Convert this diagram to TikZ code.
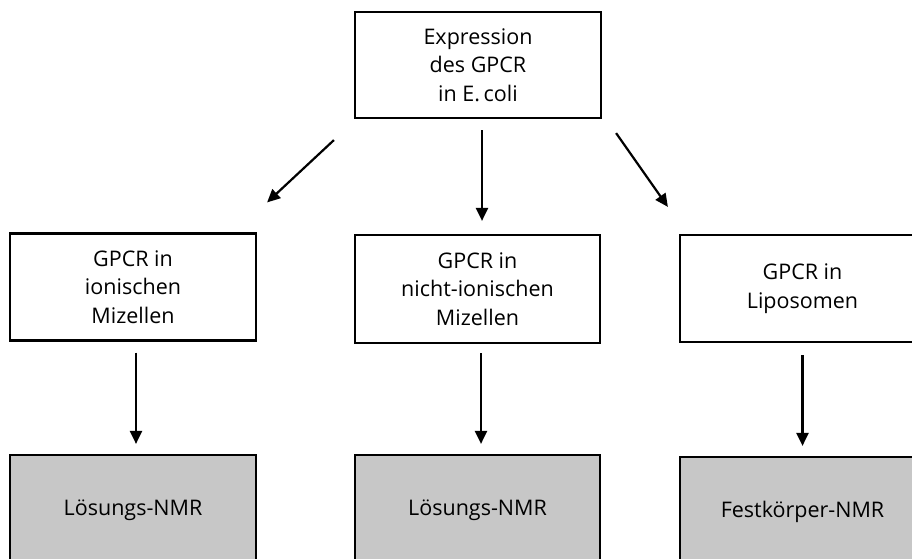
\documentclass[tikz,border=0pt]{standalone}
\usepackage{fontspec}
\setmainfont{Open Sans}
\usetikzlibrary{shapes,arrows.meta,positioning,calc}

\begin{document}
\begin{tikzpicture}[x=1pt, y=-1pt]
  \tikzstyle{box}=[draw, line width=2.2pt, minimum width=246pt, minimum height=107pt, align=center, font=\fontsize{21.5}{28.5}\selectfont, inner sep=0pt]
  \tikzstyle{result}=[box, fill=black!22, minimum height=110pt]
  \tikzstyle{pfeil}=[line width=2.2pt, -{Triangle[length=13pt,width=12pt]}]

  \useasboundingbox (0,0) rectangle (912,558);

  % Ausgangspunkt
  \node[box, minimum height=106pt] (expr) at (478,65) {Expression\\des GPCR\\in E.\,coli};

  % Umgebungen
  \node[box] (ion) at (133,287) {GPCR in\\ionischen\\Mizellen};
  \node[box, minimum width=245pt, minimum height=108pt] (nion) at (477.5,289) {GPCR in\\nicht-ionischen\\Mizellen};
  \node[box, minimum width=245pt] (lipo) at (802.5,288.5) {GPCR in\\Liposomen};

  % Methoden
  \node[result] (nmr1) at (133,510) {Lösungs-NMR};
  \node[result, minimum width=245pt] (nmr2) at (477.5,510) {Lösungs-NMR};
  \node[result, minimum width=245pt] (nmr3) at (802.5,512) {Festkörper-NMR};

  % Pfeile
  \draw[pfeil] ([shift={(-20,21)}]expr.south west) -- ([shift={(10,-30)}]ion.north east);
  \draw[pfeil, shorten <=11pt, shorten >=13pt] ([xshift=4pt]expr.south) -- ([xshift=4.5pt]nion.north);
  \draw[pfeil] ([shift={(14,14)}]expr.south east) -- ([shift={(-11,-27)}]lipo.north west);

  \draw[pfeil, shorten <=11pt, shorten >=10pt] ([xshift=3pt]ion.south) -- ([xshift=3pt]nmr1.north);
  \draw[pfeil, shorten <=9pt, shorten >=10pt] ([xshift=3.5pt]nion.south) -- ([xshift=3.5pt]nmr2.north);
  \draw[pfeil, shorten <=12pt, shorten >=10pt] (lipo.south) -- (nmr3.north);
\end{tikzpicture}
\end{document}
